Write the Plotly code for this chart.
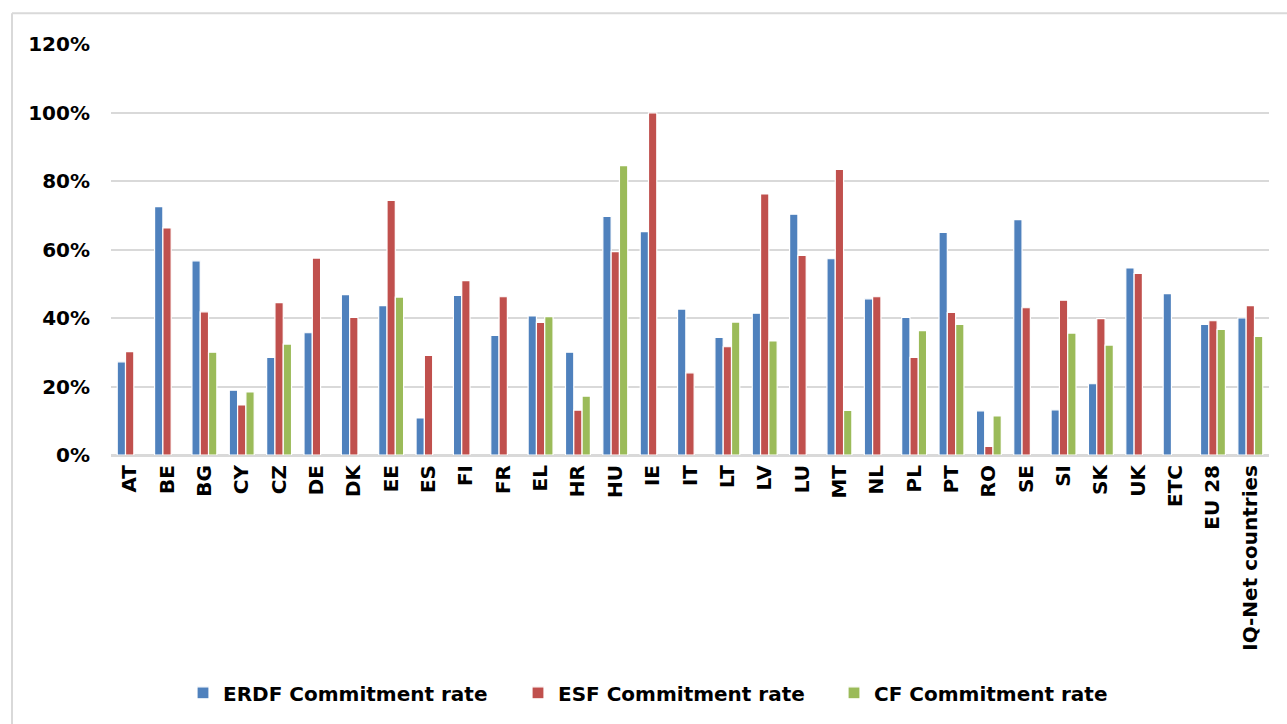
import plotly.graph_objects as go

# Commitment rates (%) by fund and country
categories = ["AT", "BE", "BG", "CY", "CZ", "DE", "DK", "EE", "ES", "FI", "FR",
              "EL", "HR", "HU", "IE", "IT", "LT", "LV", "LU", "MT", "NL", "PL",
              "PT", "RO", "SE", "SI", "SK", "UK", "ETC", "EU 28", "IQ-Net countries"]

erdf_rate = [27.2, 72.5, 56.7, 18.9, 28.5, 35.7, 46.8, 43.6, 10.8, 46.6, 34.9,
             40.6, 30.0, 69.7, 65.2, 42.6, 34.3, 41.4, 70.3, 57.3, 45.6, 40.2,
             65.0, 12.9, 68.7, 13.2, 20.8, 54.6, 47.1, 38.1, 40.0]

esf_rate = [30.2, 66.3, 41.8, 14.6, 44.5, 57.5, 40.2, 74.3, 29.1, 50.9, 46.2,
            38.7, 13.1, 59.4, 99.9, 24.0, 31.6, 76.2, 58.3, 83.4, 46.2, 28.5,
            41.6, 2.5, 43.0, 45.2, 39.8, 53.0, None, 39.2, 43.6]

cf_rate = [None, None, 30.0, 18.4, 32.4, None, None, 46.1, None, None, None,
           40.4, 17.2, 84.5, None, None, 38.8, 33.3, None, 13.0, None, 36.3,
           38.1, 11.4, None, 35.6, 32.1, None, None, 36.7, 34.6]

series = [
    ("ERDF Commitment rate", erdf_rate, "#4F81BD", "legend"),
    ("ESF Commitment rate", esf_rate, "#C0504D", "legend2"),
    ("CF Commitment rate", cf_rate, "#9BBB59", "legend3"),
]

FONT = dict(family="DejaVu Sans", size=20, color="#000000", weight="bold")
GRID = "#D9D9D9"

W, H = 1287, 724
L, R, T, B = 111, 18, 44, 267
pw, ph = W - L - R, H - T - B


def px_x(p):
    return (p - L) / pw


def px_y(p):
    return (H - B - p) / ph


fig = go.Figure()
for name, vals, color, leg in series:
    fig.add_trace(go.Bar(
        x=categories, y=vals, name=name, legend=leg,
        marker=dict(color=color, line=dict(color="white", width=1.2)),
    ))

# one legend box per fund, laid out in a row under the axis labels
legend_left = {"legend": 183, "legend2": 518, "legend3": 834}
legends = {
    key: dict(
        orientation="h", x=px_x(left), xanchor="left",
        y=px_y(696), yanchor="middle", font=FONT, itemwidth=30,
        bgcolor="rgba(0,0,0,0)",
    )
    for key, left in legend_left.items()
}

# chart-area frame: left and top edges (the others run off the page)
frame_x, frame_top = px_x(12), px_y(13)
frame = [
    dict(type="line", xref="paper", yref="paper",
         x0=frame_x, x1=frame_x, y0=px_y(760), y1=frame_top,
         line=dict(color=GRID, width=2), layer="below"),
    dict(type="line", xref="paper", yref="paper",
         x0=frame_x, x1=px_x(1340), y0=frame_top, y1=frame_top,
         line=dict(color=GRID, width=2), layer="below"),
]

fig.update_layout(
    width=W, height=H,
    margin=dict(l=L, r=R, t=T, b=B, pad=0),
    paper_bgcolor="white", plot_bgcolor="white",
    barmode="group", bargap=0.333, bargroupgap=0,
    font=FONT,
    showlegend=True,
    shapes=frame,
    **legends,
)

fig.update_yaxes(
    range=[0, 120], dtick=20, ticksuffix="%",
    showgrid=True, gridcolor=GRID, gridwidth=2,
    zeroline=True, zerolinecolor=GRID, zerolinewidth=2,
    showline=False, ticks="", ticklabelstandoff=20,
    tickfont=FONT,
)
fig.update_xaxes(
    tickangle=-90, showgrid=False, showline=True, linecolor=GRID, linewidth=2,
    ticks="", tickfont=FONT,
)

fig.write_html("out.html")
